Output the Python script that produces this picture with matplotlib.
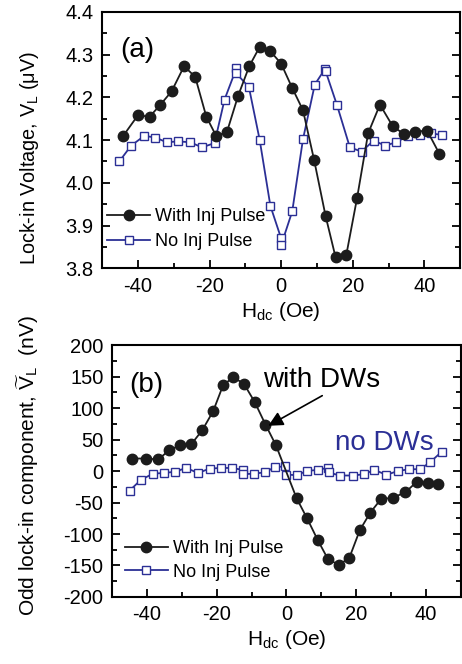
import matplotlib
matplotlib.use('Agg')
import matplotlib.pyplot as plt
from matplotlib.ticker import MultipleLocator, FormatStrFormatter

plt.rcParams['font.family'] = ['Liberation Sans', 'DejaVu Sans']
plt.rcParams['mathtext.fontset'] = 'custom'
plt.rcParams['mathtext.rm'] = 'Liberation Sans'
plt.rcParams['mathtext.it'] = 'Liberation Sans'
plt.rcParams['mathtext.bf'] = 'Liberation Sans:bold'
plt.rcParams['axes.unicode_minus'] = False

BLUE = '#2b2f95'
DARK = '#1c1c1c'

# ---- panel (a) data ----
a_with_x = [-44.1, -40.0, -36.7, -33.7, -30.6, -27.1, -24.0, -20.9, -18.1, -15.1,
            -12.0, -8.9, -6.0, -3.0, 0.0, 3.1, 6.1, 9.2, 12.4, 15.2,
            18.2, 21.2, 24.3, 27.6, 31.2, 34.2, 37.5, 40.8, 44.2]
a_with_y = [4.110, 4.158, 4.155, 4.183, 4.214, 4.273, 4.248, 4.155, 4.109, 4.120,
            4.204, 4.273, 4.318, 4.308, 4.279, 4.222, 4.170, 4.054, 3.923, 3.826,
            3.831, 3.964, 4.116, 4.183, 4.132, 4.115, 4.120, 4.122, 4.068]
a_no_x = [-45.2, -41.9, -38.2, -35.1, -32.0, -28.7, -25.4, -22.1, -18.6, -15.8,
          -12.5, -12.5, -9.0, -6.0, -3.0, 0.0, 0.0, 3.1, 6.1, 9.4,
          12.2, 12.4, 15.6, 19.2, 22.5, 25.8, 29.1, 32.1, 35.5, 38.8, 41.8, 44.9]
a_no_y = [4.050, 4.087, 4.110, 4.106, 4.095, 4.097, 4.095, 4.083, 4.093, 4.195,
          4.268, 4.256, 4.224, 4.101, 3.946, 3.870, 3.854, 3.933, 4.102, 4.230,
          4.266, 4.262, 4.182, 4.083, 4.073, 4.099, 4.087, 4.095, 4.110, 4.112, 4.116, 4.112]

# ---- panel (b) data ----
b_with_x = [-44.1, -40.1, -36.7, -33.6, -30.5, -27.2, -24.1, -21.0, -18.1, -15.2,
            -12.2, -9.1, -6.0, -3.0, 2.9, 5.9, 9.0, 11.9, 15.0, 18.0,
            21.0, 24.0, 27.0, 30.5, 34.0, 37.3, 40.4, 43.3]
b_with_y = [20, 20, 18.5, 33, 41, 43, 65, 95, 137, 149,
            139, 110, 74, 41, -43, -75, -110, -140, -149, -138,
            -94, -66, -45, -42, -34, -17, -18.5, -20.7]
b_no_x = [-44.9, -41.7, -38.2, -35.0, -31.9, -28.7, -25.3, -22.0, -18.7, -15.7,
          -12.5, -12.5, -9.3, -6.2, -3.2, -0.3, -0.2, 2.9, 6.0, 9.0,
          11.9, 12.1, 15.2, 19.0, 22.2, 25.2, 28.6, 31.8, 35.1, 38.3, 41.1, 44.5]
b_no_y = [-31, -14, -4, -3, -1, 5, -3, 4, 5, 5,
          2, -5, -4, -2, 6.5, 7.5, -5.5, -6.5, 0.5, 1.8,
          5.5, -2, -7, -7, -5, 2, -6, 0, 3, 3, 14, 31]

fig = plt.figure(figsize=(4.62, 6.64), dpi=100)
ax1 = fig.add_axes([0.221, 0.596, 0.775, 0.386])
ax2 = fig.add_axes([0.242, 0.101, 0.756, 0.379])

def style(ax):
    for s in ax.spines.values():
        s.set_linewidth(1.5)
    ax.tick_params(which='both', direction='in', top=False, right=True,
                   width=1.3, labelsize=14.5, pad=6)
    ax.tick_params(which='major', length=6)
    ax.tick_params(which='minor', length=3.5)
    ax.set_xlim(-50, 50)
    ax.xaxis.set_major_locator(MultipleLocator(20))
    ax.xaxis.set_minor_locator(MultipleLocator(10))
    ax.set_xlabel('H$_{\\mathregular{dc}}$ (Oe)', fontsize=15, labelpad=3)

def draw(ax, xw, yw, xn, yn, anchor, spacing):
    ax.plot(xw, yw, '-o', color=DARK, lw=1.3, ms=7.5, mfc=DARK, mec=DARK,
            label='With Inj Pulse', zorder=3)
    ax.plot(xn, yn, '-s', color=BLUE, lw=1.3, ms=5.5, mfc='white', mec=BLUE,
            mew=1.0, label='No Inj Pulse', zorder=2)
    ax.legend(loc='lower left', bbox_to_anchor=anchor, frameon=False,
              fontsize=13, handlelength=2.4, handletextpad=0.25,
              borderpad=0, borderaxespad=0, labelspacing=spacing,
              numpoints=1)

# panel (a)
draw(ax1, a_with_x, a_with_y, a_no_x, a_no_y, (0.014, 0.07), 0.45)
style(ax1)
ax1.set_ylim(3.8, 4.4)
ax1.yaxis.set_major_locator(MultipleLocator(0.1))
ax1.yaxis.set_minor_locator(MultipleLocator(0.05))
ax1.yaxis.set_major_formatter(FormatStrFormatter('%.1f'))
ax1.set_ylabel('Lock-in Voltage, V$_{\\mathregular{L}}$ ($\\mathregular{\\mu}$V)',
               fontsize=14.3)
ax1.yaxis.set_label_coords(-0.17, 0.43)
ax1.text(0.05, 0.85, '(a)', transform=ax1.transAxes, fontsize=20,
         ha='left', va='center')

# panel (b)
draw(ax2, b_with_x, b_with_y, b_no_x, b_no_y, (0.037, 0.065), 0.35)
style(ax2)
ax2.set_ylim(-200, 200)
ax2.yaxis.set_major_locator(MultipleLocator(50))
ax2.yaxis.set_minor_locator(MultipleLocator(25))
ax2.set_ylabel('Odd lock-in component, $\\widetilde{\\mathregular{V}}_{\\mathregular{L}}$  (nV)',
               fontsize=15)
ax2.yaxis.set_label_coords(-0.203, 0.52)
ax2.text(0.05, 0.841, '(b)', transform=ax2.transAxes, fontsize=20,
         ha='left', va='center')
ax2.annotate('with DWs', xy=(-5.2, 72), xytext=(10, 145), fontsize=20,
             ha='center', va='center',
             arrowprops=dict(arrowstyle='-|>', color='black', lw=1.2,
                             mutation_scale=22, shrinkA=0, shrinkB=0,
                             relpos=(0.55, 0.0)))
ax2.text(28, 44, 'no DWs', color=BLUE, fontsize=20, ha='center', va='center')

fig.savefig('out.png', dpi=100)
